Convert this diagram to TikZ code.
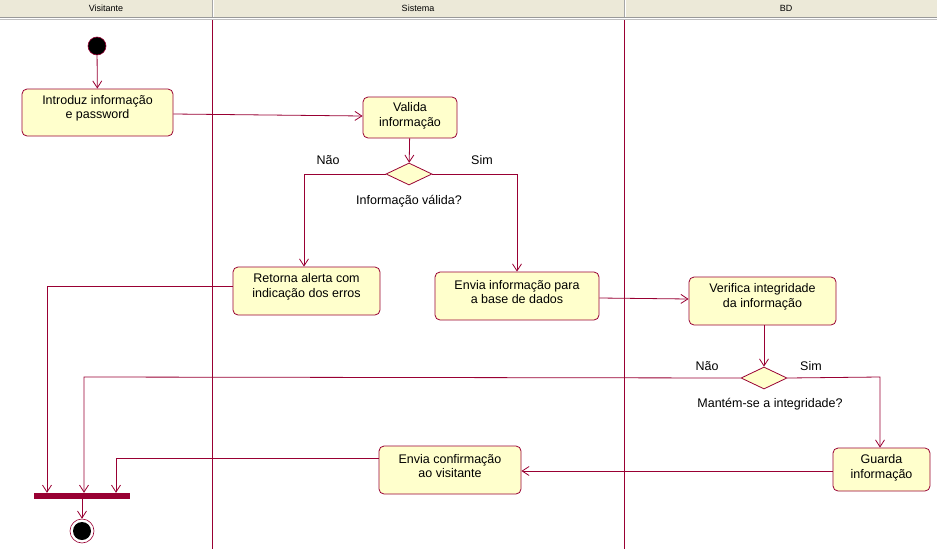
\documentclass[tikz,border=0pt]{standalone}
\usepackage{fontspec}
\setmainfont{Liberation Sans}
\usetikzlibrary{arrows.meta,shapes.geometric}
\definecolor{uml}{HTML}{990033}
\definecolor{boxfill}{HTML}{FFFFCC}
\definecolor{hdr}{HTML}{ECE9D8}
\begin{document}
\begin{tikzpicture}[x=1pt,y=-1pt,
  act/.style={draw=uml,fill=boxfill,rounded corners=5pt,line width=0.8pt,inner sep=0pt},
  txt/.style={align=center,inner sep=0pt,font=\fontsize{12.5}{14.5}\selectfont},
  dec/.style={draw=uml,fill=boxfill,diamond,line width=0.8pt,minimum width=46pt,minimum height=22pt,inner sep=0pt,aspect=2},
  flow/.style={draw=uml,line width=0.8pt,-{Straight Barb[length=7pt,width=9pt]}},
  lane/.style={draw=uml,line width=0.8pt},
  lbl/.style={font=\fontsize{12.5}{14}\selectfont,inner sep=0pt},
  hlbl/.style={font=\fontsize{9}{10}\selectfont,inner sep=0pt}]
\useasboundingbox (0,0) rectangle (937,549);
\fill[white] (0,0) rectangle (937,549);
% header
\fill[hdr] (0,0) rectangle (937,17);
\draw[gray!80,line width=1pt] (0,17.5) -- (937,17.5);
\draw[gray!50,line width=1pt] (0,19) -- (937,19);
\draw[gray!70,line width=1pt] (212,0) -- (212,17);
\draw[white,line width=1pt] (213,0) -- (213,17);
\draw[gray!70,line width=1pt] (624,0) -- (624,17);
\draw[white,line width=1pt] (625,0) -- (625,17);
\node[hlbl] (h1) at (106,8) {Visitante};
\node[hlbl] (h2) at (418,8) {Sistema};
\node[hlbl] (h3) at (786,8) {BD};
% lanes
\draw[lane] (212,20) -- (212,549);
\draw[lane] (624,20) -- (624,549);
% nodes
\node[circle,fill=black,draw=uml,line width=0.6pt,minimum size=18pt,inner sep=0pt] (start) at (97,46) {};
\node[act,minimum width=151pt,minimum height=47pt] (intro) at (97.5,112.5) {};
\node[txt] (introT) at ([yshift=4pt]intro.center) {Introduz informação\\e password};
\node[act,minimum width=94pt,minimum height=41pt] (valida) at (410,117.5) {};
\node[txt] (validaT) at ([yshift=1.5pt]valida.center) {Valida\\informação};
\node[dec] (d1) at (409,174) {};
\node[act,minimum width=147pt,minimum height=48pt] (retorna) at (306.5,291) {};
\node[txt] (retornaT) at ([yshift=4pt]retorna.center) {Retorna alerta com\\indicação dos erros};
\node[act,minimum width=164pt,minimum height=48pt] (envia) at (517,296) {};
\node[txt] (enviaT) at ([yshift=4pt]envia.center) {Envia informação para\\a base de dados};
\node[act,minimum width=147pt,minimum height=48pt] (verifica) at (762.5,301) {};
\node[txt] (verificaT) at ([yshift=4pt]verifica.center) {Verifica integridade\\da informação};
\node[dec] (d2) at (764,378) {};
\node[act,minimum width=97pt,minimum height=43pt] (guarda) at (881.5,469.5) {};
\node[txt] (guardaT) at ([yshift=1.5pt]guarda.center) {Guarda\\informação};
\node[act,minimum width=142pt,minimum height=48pt] (conf) at (450,470) {};
\node[txt] (confT) at ([yshift=4pt]conf.center) {Envia confirmação\\ao visitante};
\node[fill=uml,minimum width=96pt,minimum height=6pt,inner sep=0pt] (bar) at (82,496) {};
\node[circle,draw=uml,line width=0.6pt,minimum size=24pt,inner sep=0pt] (endo) at (82,531) {};
\node[circle,fill=black,minimum size=18pt,inner sep=0pt] (endi) at (82,531) {};
% labels
\node[lbl] (l1) at (328,160) {Não};
\node[lbl] (l2) at (482,160) {Sim};
\node[lbl] (l3) at (409,201) {Informação válida?};
\node[lbl] (l4) at (707,366) {Não};
\node[lbl] (l5) at (811,366) {Sim};
\node[lbl] (l6) at (770,404) {Mantém-se a integridade?};
% flows
\draw[flow] (start) -- (intro);
\draw[flow] (intro.east |- 0,114) -- (valida.west |- 0,116);
\draw[flow] (valida) -- (d1);
\draw[flow] (d1.west) -- (304,174) -- (retorna.north -| 304,0);
\draw[flow] (d1.east) -- (517,174) -- (envia.north);
\draw[flow] (retorna.west |- 0,286) -- (47,286) -- (bar.north -| 47,0);
\draw[flow] (envia.east |- 0,298) -- (verifica.west |- 0,299);
\draw[flow] (verifica.south -| d2) -- (d2);
\draw[flow] (d2.west) -- (84,377) -- (bar.north -| 84,0);
\draw[flow] (d2.east) -- (880,377) -- (guarda.north -| 880,0);
\draw[flow] (guarda.west |- 0,471) -- (conf.east |- 0,471);
\draw[flow] (conf.west |- 0,458) -- (116,458) -- (bar.north -| 116,0);
\draw[flow] (bar.south) -- (endo);
\end{tikzpicture}
\end{document}
